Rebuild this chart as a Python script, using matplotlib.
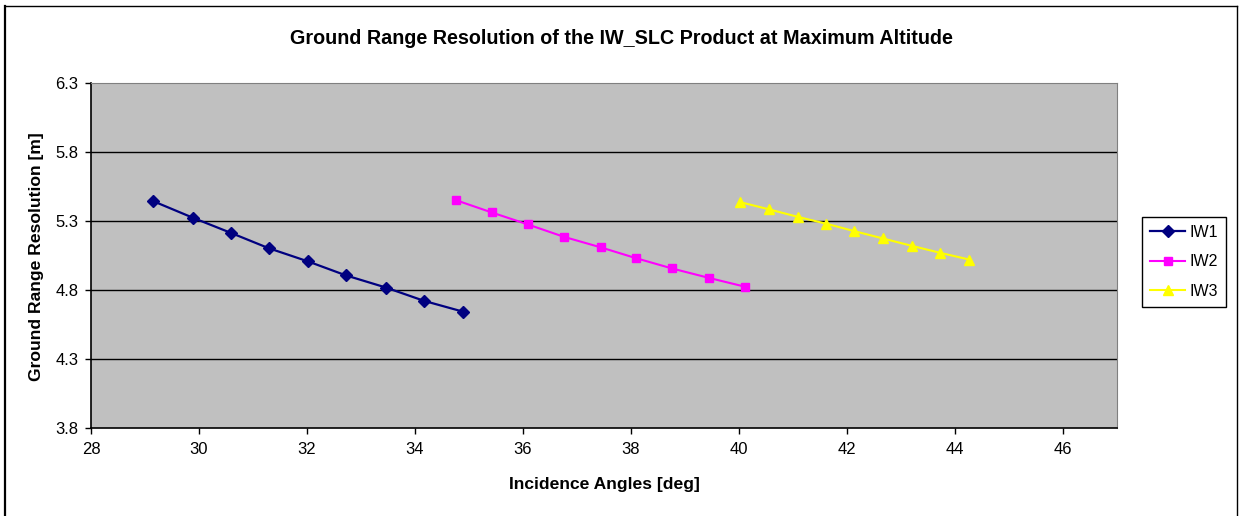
import matplotlib
matplotlib.use("Agg")
import matplotlib.pyplot as plt
from matplotlib.lines import Line2D

plt.rcParams['font.family'] = ['Liberation Sans', 'DejaVu Sans']

iw1_x = [29.15, 29.89, 30.59, 31.29, 32.02, 32.72, 33.46, 34.17, 34.88]
iw1_y = [5.444, 5.323, 5.214, 5.103, 5.007, 4.906, 4.818, 4.721, 4.644]
iw2_x = [34.75, 35.42, 36.09, 36.76, 37.44, 38.09, 38.76, 39.44, 40.12]
iw2_y = [5.452, 5.362, 5.275, 5.185, 5.109, 5.031, 4.956, 4.888, 4.823]
iw3_x = [40.02, 40.56, 41.09, 41.62, 42.13, 42.66, 43.20, 43.73, 44.26]
iw3_y = [5.437, 5.384, 5.330, 5.280, 5.227, 5.174, 5.120, 5.069, 5.021]

x_ticks = [28, 30, 32, 34, 36, 38, 40, 42, 44, 46]
y_ticks = [3.8, 4.3, 4.8, 5.3, 5.8, 6.3]

W, H = 1239, 516
fig = plt.figure(figsize=(W / 100, H / 100), dpi=100)
ax = fig.add_axes([91 / W, 1 - 428 / H, (1117 - 91) / W, (428 - 83) / H])
ax.set_facecolor('#C0C0C0')

for yv in y_ticks[1:-1]:
    ax.axhline(yv, color='black', lw=1.0, zorder=1)

ax.plot(iw1_x, iw1_y, color='#000080', marker='D', ms=6.5, lw=1.6, label='IW1', zorder=3)
ax.plot(iw2_x, iw2_y, color='#FF00FF', marker='s', ms=6, lw=1.5, label='IW2', zorder=3)
ax.plot(iw3_x, iw3_y, color='#FFFF00', marker='^', ms=7.5, lw=1.5, label='IW3', zorder=3)

ax.set_xlim(28, 47)
ax.set_ylim(3.8, 6.3)
ax.set_xticks(x_ticks)
ax.set_yticks(y_ticks)
ax.set_yticklabels([f"{v:.1f}" for v in y_ticks])
ax.tick_params(axis='both', direction='out', length=4, width=1, labelsize=12, color='black')
ax.tick_params(axis='x', pad=6)
ax.tick_params(axis='y', pad=5)
for s in ['left', 'bottom']:
    ax.spines[s].set_color('black')
    ax.spines[s].set_linewidth(1.2)
for s in ['top', 'right']:
    ax.spines[s].set_color('#808080')
    ax.spines[s].set_linewidth(0.8)

fig.text((283 + 960) / 2 / W, 1 - 38 / H,
         'Ground Range Resolution of the IW_SLC Product at Maximum Altitude',
         fontsize=14.2, fontweight='bold', ha='center', va='center')
fig.text(604 / W, 1 - 485 / H, 'Incidence Angles [deg]',
         fontsize=12.6, fontweight='bold', ha='center', va='center')
fig.text(37 / W, 1 - 257 / H, 'Ground Range Resolution [m]',
         fontsize=12.6, fontweight='bold', ha='center', va='center', rotation=90)

leg = ax.legend(loc='upper left', bbox_to_anchor=(1142 / W, 1 - 217 / H), bbox_transform=fig.transFigure,
                fancybox=False, framealpha=1, edgecolor='black', fontsize=11.5,
                handlelength=2.2, borderpad=0.5, labelspacing=0.9, handletextpad=0.3,
                borderaxespad=0)
leg.get_frame().set_linewidth(1.0)

# outer chart frame (bottom edge lies beyond the image)
fig.add_artist(Line2D([4.5 / W, 4.5 / W], [0, 1 - 6 / H], transform=fig.transFigure, color='black', lw=1.6))
fig.add_artist(Line2D([4.5 / W, 1237 / W], [1 - 6 / H, 1 - 6 / H], transform=fig.transFigure, color='black', lw=1.0))
fig.add_artist(Line2D([1237 / W, 1237 / W], [0, 1 - 6 / H], transform=fig.transFigure, color='black', lw=1.0))

fig.savefig('out.png', dpi=100)
